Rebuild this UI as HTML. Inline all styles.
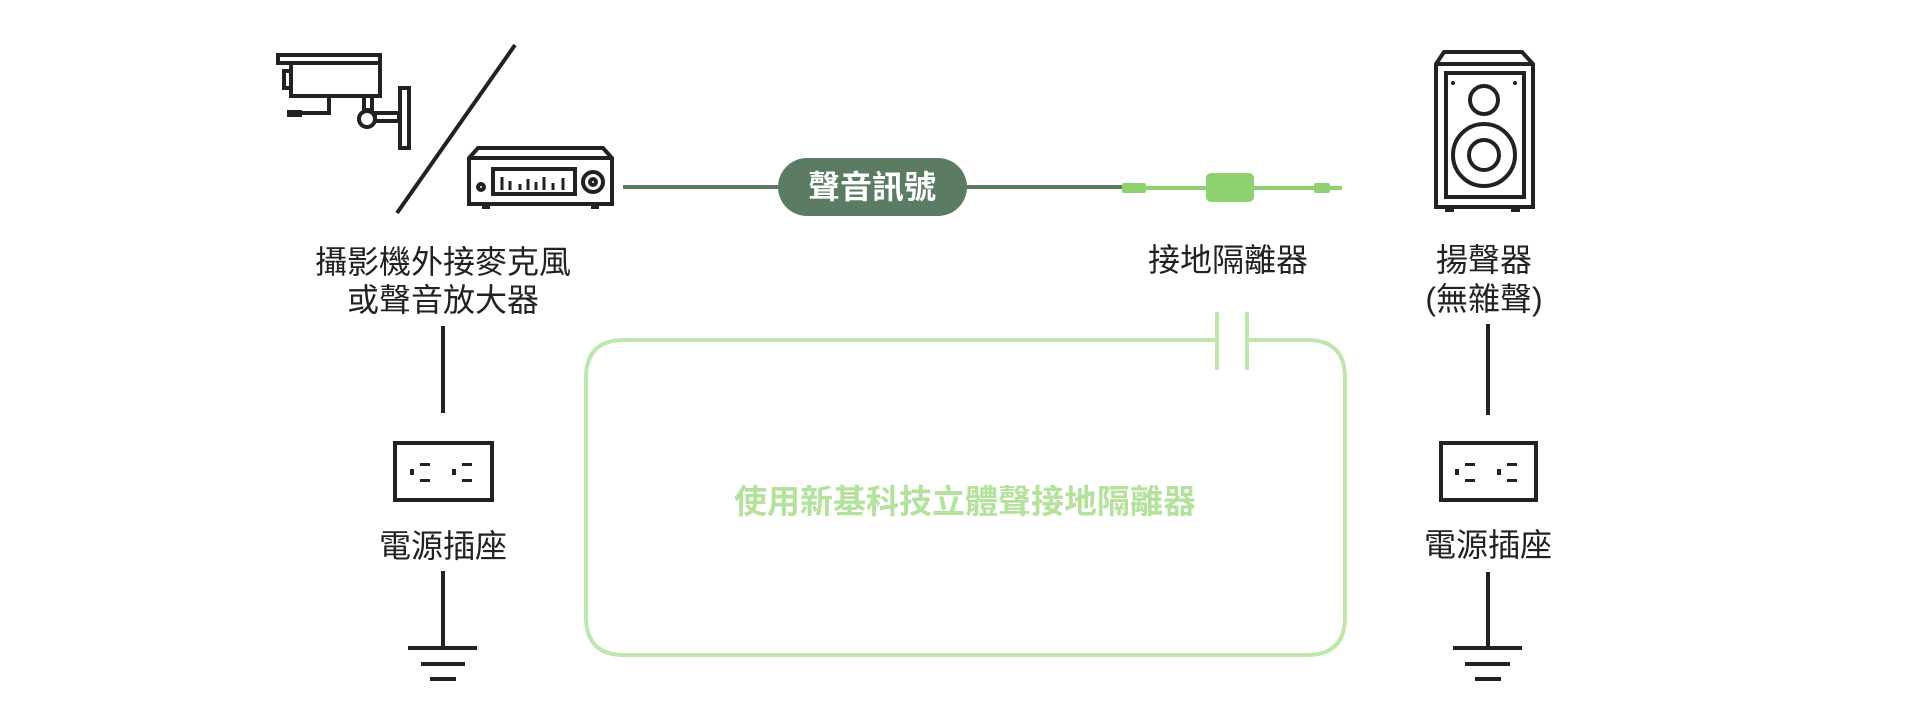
<!DOCTYPE html>
<html><head><meta charset="utf-8"><style>
html,body{margin:0;padding:0;background:#fff;}
svg{display:block}
text{font-family:"Liberation Sans","Noto Sans CJK TC",sans-serif;}
</style></head><body>
<svg width="1931" height="723" viewBox="0 0 1931 723" xmlns="http://www.w3.org/2000/svg">
<g fill="none" stroke="#222" stroke-width="4">
<rect x="278" y="55" width="102" height="8"/>
<rect x="291" y="63" width="89" height="33"/>
<rect x="284" y="71" width="7" height="17"/>
<polyline points="329,96 329,113 302,113"/>
<rect x="364" y="96" width="8" height="14"/>
<circle cx="367" cy="119" r="8"/>
<rect x="375" y="113" width="24" height="8"/>
<rect x="400" y="88" width="9" height="60"/>
</g>
<rect x="287" y="110" width="15" height="7" fill="#222"/>
<line x1="515" y1="45" x2="397" y2="213" stroke="#222" stroke-width="4"/>
<g fill="none" stroke="#222" stroke-width="4">
<polygon points="478,148 603,148 612,158 612,204 469,204 469,158"/>
<line x1="469" y1="158" x2="612" y2="158"/>
<rect x="493" y="169" width="82" height="25"/>
<circle cx="593" cy="182" r="10"/>
<circle cx="593" cy="182" r="3"/>
<circle cx="481" cy="187" r="3"/>
</g>
<g stroke="#222" stroke-width="3">
<line x1="502" y1="190" x2="502" y2="177"/><line x1="510" y1="190" x2="510" y2="181"/>
<line x1="520" y1="190" x2="520" y2="184"/><line x1="528" y1="190" x2="528" y2="179"/>
<line x1="536" y1="190" x2="536" y2="182"/><line x1="544" y1="190" x2="544" y2="177"/>
<line x1="553" y1="190" x2="553" y2="183"/><line x1="563" y1="190" x2="563" y2="178"/>
</g>
<rect x="482" y="204" width="8" height="5" fill="#222"/><rect x="591" y="204" width="8" height="5" fill="#222"/>
<line x1="623" y1="187" x2="1124" y2="187" stroke="#5b7b62" stroke-width="4"/>
<rect x="778" y="158" width="189" height="58" rx="29" fill="#5b7b62"/>
<text x="872" y="198" font-size="32" font-weight="bold" fill="#fff" text-anchor="middle">聲音訊號</text>
<line x1="1122" y1="188" x2="1342" y2="188" stroke="#8fd16f" stroke-width="4"/>
<rect x="1122" y="183" width="24" height="10" rx="2" fill="#8fd16f"/>
<rect x="1206" y="173" width="48" height="29" rx="5" fill="#8fd16f"/>
<rect x="1314" y="183" width="16" height="10" rx="2" fill="#8fd16f"/>
<g fill="none" stroke="#222" stroke-width="4">
<polygon points="1444,52 1522,52 1533,64 1533,207 1436,207 1436,64"/>
<line x1="1436" y1="64" x2="1533" y2="64"/>
<rect x="1446" y="73" width="78" height="124"/>
<circle cx="1484" cy="100" r="14"/>
<circle cx="1484" cy="155" r="31"/>
<circle cx="1484" cy="155" r="15"/>
</g>
<circle cx="1453" cy="83" r="2" fill="#222"/><circle cx="1515" cy="83" r="2" fill="#222"/>
<rect x="1445" y="207" width="9" height="5" fill="#222"/><rect x="1511" y="207" width="9" height="5" fill="#222"/>
<g font-size="32" fill="#222" text-anchor="middle">
<text x="443" y="273">攝影機外接麥克風</text>
<text x="443" y="311">或聲音放大器</text>
<text x="1228" y="271">接地隔離器</text>
<text x="1484" y="271">揚聲器</text>
<text x="1484" y="310">(無雜聲)</text>
<text x="443" y="557">電源插座</text>
<text x="1488" y="556">電源插座</text>
</g>
<g stroke="#222" stroke-width="4" fill="none">
<line x1="443" y1="326" x2="443" y2="413"/>
<rect x="395" y="443" width="97" height="57"/>
<line x1="443" y1="571" x2="443" y2="648"/>
<line x1="408" y1="648" x2="477" y2="648"/>
<line x1="421" y1="664" x2="465" y2="664"/>
<line x1="430" y1="679" x2="456" y2="679"/>
<line x1="1488" y1="324" x2="1488" y2="415"/>
<rect x="1441" y="443" width="95" height="57"/>
<line x1="1488" y1="572" x2="1488" y2="648"/>
<line x1="1453" y1="648" x2="1522" y2="648"/>
<line x1="1465" y1="664" x2="1510" y2="664"/>
<line x1="1475" y1="679" x2="1501" y2="679"/>
</g>
<g fill="#222">
<rect x="410" y="469" width="4" height="6"/><rect x="420" y="463" width="10" height="3"/><rect x="420" y="479" width="10" height="3"/>
<rect x="452" y="469" width="4" height="6"/><rect x="462" y="463" width="10" height="3"/><rect x="462" y="479" width="10" height="3"/>
<rect x="1455" y="469" width="4" height="6"/><rect x="1465" y="463" width="10" height="3"/><rect x="1465" y="479" width="10" height="3"/>
<rect x="1497" y="469" width="4" height="6"/><rect x="1507" y="463" width="10" height="3"/><rect x="1507" y="479" width="10" height="3"/>
</g>
<path d="M1217,340 L624,340 Q586,340 586,378 L586,617 Q586,655 624,655 L1307,655 Q1345,655 1345,617 L1345,378 Q1345,340 1307,340 L1247,340" fill="none" stroke="#bfe6ac" stroke-width="4"/>
<line x1="1217" y1="312" x2="1217" y2="370" stroke="#bfe6ac" stroke-width="4"/>
<line x1="1247" y1="312" x2="1247" y2="370" stroke="#bfe6ac" stroke-width="4"/>
<text x="965" y="513" font-size="33" font-weight="bold" fill="#b4e29c" text-anchor="middle">使用新基科技立體聲接地隔離器</text>
</svg>
</body></html>
